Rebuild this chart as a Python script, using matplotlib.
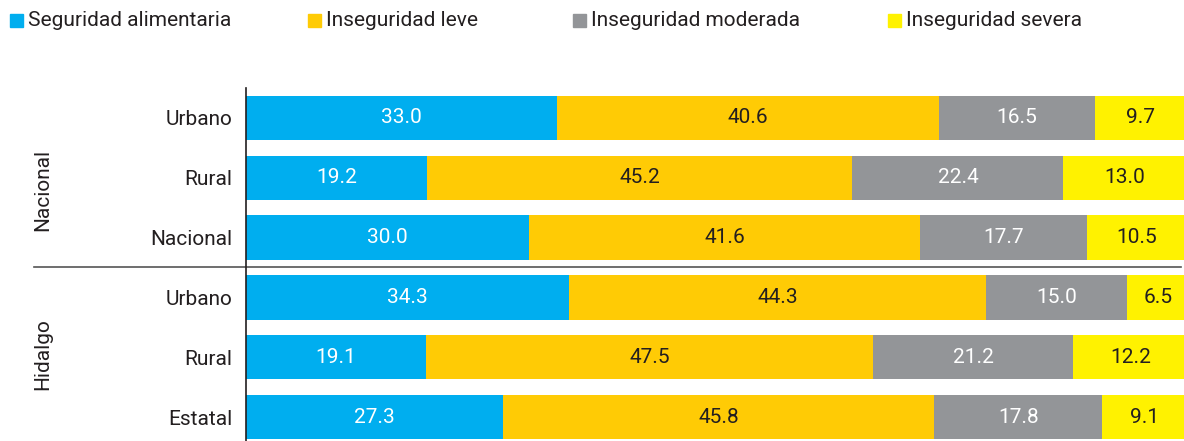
import matplotlib
matplotlib.use('Agg')
import matplotlib.pyplot as plt
from matplotlib.patches import Rectangle

plt.rcParams['font.family'] = ['Roboto', 'DejaVu Sans']

# data
rows = ['Urbano', 'Rural', 'Nacional', 'Urbano', 'Rural', 'Estatal']
groups = ['Nacional', 'Hidalgo']
series = ['Seguridad alimentaria', 'Inseguridad leve', 'Inseguridad moderada', 'Inseguridad severa']
seguridad = [33.0, 19.2, 30.0, 34.3, 19.1, 27.3]
leve = [40.6, 45.2, 41.6, 44.3, 47.5, 45.8]
moderada = [16.5, 22.4, 17.7, 15.0, 21.2, 17.8]
severa = [9.7, 13.0, 10.5, 6.5, 12.2, 9.1]

colors = ['#00AEEF', '#FFCB05', '#939598', '#FFF200']
text_colors = ['white', '#231F20', 'white', '#231F20']
FS = 15

fig = plt.figure(figsize=(11.84, 4.41), dpi=100)
ax = fig.add_axes([246 / 1184, 0, 1 - 246 / 1184, 353 / 441])

ypos = list(range(len(rows)))
left = [0] * len(rows)
for vals, col, tcol in zip([seguridad, leve, moderada, severa], colors, text_colors):
    bars = ax.barh(ypos, vals, left=left, height=0.74, color=col, edgecolor='none')
    for b, v in zip(bars, vals):
        ax.text(b.get_x() + b.get_width() / 2, b.get_y() + b.get_height() / 2,
                '%.1f' % v, ha='center', va='center', color=tcol, fontsize=FS)
    left = [l + v for l, v in zip(left, vals)]

ax.set_xlim(0, 99.6)
ax.set_ylim(5.4, -0.5)
ax.set_yticks(ypos)
ax.set_yticklabels(rows, fontsize=FS, color='#231F20')
ax.tick_params(axis='y', length=0, pad=10)
ax.set_xticks([])
for s in ['top', 'right', 'bottom']:
    ax.spines[s].set_visible(False)
ax.spines['left'].set_color('#231F20')
ax.spines['left'].set_linewidth(1.2)

# separator between groups
ax.plot([-22.5, 99.3], [2.5, 2.5], color='#555555', lw=1.2, clip_on=False)

# group labels
ax.text(-21.6, 1.2, groups[0], rotation=90, ha='center', va='center', fontsize=FS, color='#231F20')
ax.text(-21.6, 3.95, groups[1], rotation=90, ha='center', va='center', fontsize=FS, color='#231F20')

# legend
leg_x = [10, 308, 573, 888]
for x, name, col in zip(leg_x, series, colors):
    fig.patches.append(Rectangle((x / 1184, 1 - 27 / 441), 13 / 1184, 13 / 441,
                                 transform=fig.transFigure, color=col))
    fig.text((x + 18) / 1184, 1 - 20 / 441, name, ha='left', va='center', fontsize=FS, color='#231F20')

fig.savefig('out.png', dpi=100)
